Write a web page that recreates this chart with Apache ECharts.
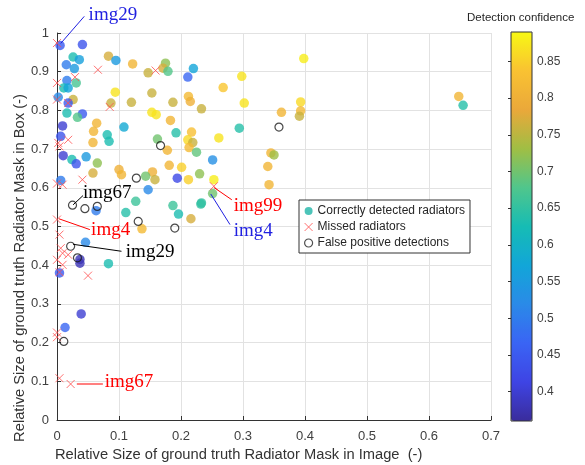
<!DOCTYPE html>
<html>
<head>
<meta charset="utf-8">
<script src="https://cdn.jsdelivr.net/npm/echarts@6/dist/echarts.min.js"></script>
<style>
html, body { margin: 0; padding: 0; background: #fff; }
#chart { width: 585px; height: 465px; }
</style>
</head>
<body>
<div id="chart"></div>
<script>
// correctly detected radiators: [x, y, confidence]
const detected = [
  [0.005,0.968,0.45],[0.041,0.970,0.44],[0.026,0.938,0.63],[0.036,0.931,0.56],[0.015,0.918,0.50],
  [0.028,0.908,0.55],[0.083,0.940,0.77],[0.095,0.929,0.55],[0.122,0.920,0.81],[0.175,0.922,0.72],
  [0.171,0.909,0.77],[0.179,0.901,0.68],[0.147,0.897,0.76],[0.220,0.908,0.57],[0.211,0.886,0.47],
  [0.016,0.877,0.50],[0.031,0.871,0.67],[0.011,0.858,0.63],[0.018,0.858,0.57],[0.094,0.847,0.87],
  [0.153,0.845,0.76],[0.268,0.859,0.84],[0.002,0.834,0.52],[0.026,0.828,0.76],[0.018,0.819,0.45],
  [0.087,0.819,0.76],[0.120,0.821,0.76],[0.187,0.821,0.76],[0.212,0.836,0.82],[0.215,0.823,0.80],
  [0.233,0.804,0.76],[0.016,0.793,0.63],[0.041,0.791,0.45],[0.033,0.782,0.68],[0.153,0.795,0.87],
  [0.160,0.789,0.87],[0.183,0.774,0.81],[0.009,0.760,0.40],[0.064,0.767,0.81],[0.059,0.746,0.81],
  [0.058,0.717,0.81],[0.108,0.757,0.58],[0.081,0.737,0.63],[0.084,0.720,0.63],[0.162,0.726,0.70],
  [0.192,0.742,0.64],[0.217,0.744,0.83],[0.211,0.724,0.86],[0.219,0.717,0.76],[0.261,0.729,0.87],
  [0.294,0.754,0.64],[0.006,0.733,0.44],[0.398,0.934,0.88],[0.298,0.888,0.87],[0.302,0.819,0.87],
  [0.362,0.795,0.81],[0.393,0.822,0.86],[0.393,0.799,0.82],[0.391,0.785,0.76],[0.648,0.836,0.81],
  [0.655,0.813,0.64],[0.345,0.690,0.81],[0.350,0.685,0.73],[0.251,0.672,0.53],[0.340,0.655,0.81],
  [0.342,0.608,0.81],[0.253,0.621,0.88],[0.251,0.585,0.70],[0.233,0.561,0.65],[0.178,0.697,0.81],
  [0.213,0.704,0.82],[0.225,0.692,0.69],[0.181,0.658,0.81],[0.201,0.653,0.85],[0.154,0.641,0.80],
  [0.143,0.630,0.70],[0.158,0.621,0.76],[0.194,0.625,0.42],[0.212,0.621,0.85],[0.230,0.636,0.72],
  [0.147,0.595,0.52],[0.187,0.554,0.66],[0.232,0.558,0.65],[0.196,0.532,0.63],[0.216,0.520,0.77],
  [0.010,0.683,0.40],[0.024,0.673,0.63],[0.031,0.662,0.44],[0.047,0.680,0.55],[0.065,0.664,0.72],
  [0.058,0.638,0.77],[0.100,0.647,0.80],[0.104,0.634,0.81],[0.006,0.619,0.50],[0.063,0.541,0.50],
  [0.127,0.565,0.66],[0.111,0.536,0.64],[0.137,0.494,0.82],[0.046,0.459,0.52],[0.037,0.415,0.38],
  [0.037,0.405,0.38],[0.083,0.404,0.63],[0.004,0.380,0.45],[0.039,0.274,0.40],[0.013,0.239,0.47]
];
// missed radiators: [x, y]
const missed = [
  [0,0.974],[0.159,0.903],[0.066,0.905],[0.029,0.886],[0,0.871],[0,0.828],[0.018,0.819],
  [0.085,0.809],[0.018,0.724],[0.004,0.707],[0.002,0.716],[0,0.611],[0.009,0.608],[0.041,0.621],
  [0,0.518],[0.004,0.479],[0.006,0.444],[0.009,0.431],[0.018,0.427],[0,0.414],[0.009,0.401],
  [0.004,0.382],[0.050,0.373],[0,0.226],[0,0.214],[0.004,0.108],[0.022,0.093],[0.253,0.604]
];
// false positive detections: [x, y]
const falsePos = [
  [0.167,0.709],[0.358,0.757],[0.128,0.625],[0.025,0.555],[0.045,0.546],[0.065,0.552],
  [0.131,0.513],[0.190,0.496],[0.022,0.449],[0.033,0.419],[0.011,0.203]
];
// annotations: label, colour, point, line end, text anchor (data units)
const annText  = ['img29', 'img67', 'img4', 'img29', 'img67', 'img99', 'img4'];
const annColor = ['#1f1fe0', '#000000', '#ff0000', '#000000', '#ff0000', '#ff0000', '#1f1fe0'];
const annFrom  = [[0.006,0.973],[0.026,0.556],[0.003,0.520],[0.026,0.454],[0.032,0.093],[0.253,0.601],[0.248,0.584]];
const annTo    = [[0.044,1.043],[0.042,0.580],[0.053,0.492],[0.104,0.436],[0.074,0.093],[0.282,0.569],[0.279,0.505]];
const annAt    = [[0.051,1.046],[0.042,0.587],[0.055,0.490],[0.111,0.434],[0.077,0.097],[0.285,0.553],[0.285,0.489]];

const colorTicks = [0.4, 0.45, 0.5, 0.55, 0.6, 0.65, 0.7, 0.75, 0.8, 0.85];
const confMin = 0.36, confMax = 0.89;

// parula-like colormap sampled from the colorbar (evenly spaced from confMin to confMax)
const parula = ['#3a2c9c','#3e44e4','#3a64f4','#2a8ae8','#12a6d8','#16bcb4',
                '#50c68c','#a0be44','#eaa83a','#f9c232','#f8f814'];

const font = '"Liberation Sans", Arial, sans-serif';
const axisColor = '#333333';

const chart = echarts.init(document.getElementById('chart'));
chart.setOption({
  animation: false,
  grid: [
    { left: 57, top: 33, width: 434, height: 387 },
    { left: 511, top: 32, width: 21, height: 389 }
  ],
  xAxis: [
    {
      gridIndex: 0, type: 'value', min: 0, max: 0.7, interval: 0.1,
      axisLine: { lineStyle: { color: axisColor, width: 1 } },
      axisTick: { inside: true, length: 4, lineStyle: { color: axisColor } },
      axisLabel: { color: '#404040', fontSize: 13, fontFamily: font, margin: 10 },
      splitLine: { lineStyle: { color: '#e2e2e2' } }
    },
    { gridIndex: 1, type: 'value', min: 0, max: 1, show: false }
  ],
  yAxis: [
    {
      gridIndex: 0, type: 'value', min: 0, max: 1, interval: 0.1,
      axisLine: { show: true, lineStyle: { color: axisColor, width: 1 } },
      axisTick: { show: true, inside: true, length: 4, lineStyle: { color: axisColor } },
      axisLabel: { color: '#404040', fontSize: 13, fontFamily: font, margin: 8 },
      splitLine: { lineStyle: { color: '#e2e2e2' } }
    },
    {
      gridIndex: 1, type: 'value', position: 'right', min: confMin, max: confMax,
      axisLine: { show: false },
      axisTick: { show: true, inside: true, length: 3, customValues: colorTicks, lineStyle: { color: '#333' } },
      axisLabel: { customValues: colorTicks, color: '#404040', fontSize: 12, fontFamily: font, margin: 5 },
      splitLine: { show: false }
    }
  ],
  visualMap: {
    type: 'continuous', seriesIndex: 0, dimension: 2,
    min: confMin, max: confMax, calculable: false,
    orient: 'vertical', left: 511, top: 32, padding: 0,
    itemWidth: 21, itemHeight: 389,
    inRange: { color: parula }
  },
  legend: {
    orient: 'vertical', left: 299, top: 200,
    padding: [4, 5, 3, 5], itemGap: 2, itemWidth: 8, itemHeight: 8,
    backgroundColor: '#ffffff', borderColor: '#333', borderWidth: 1, borderRadius: 0,
    selectedMode: false,
    textStyle: { fontSize: 12, fontFamily: font, color: '#262626', lineHeight: 14 },
    data: [
      { name: 'Correctly detected radiators', icon: 'circle', itemStyle: { color: '#1fb5a8' } },
      { name: 'Missed radiators', icon: 'path://M0,0L10,10M10,0L0,10',
        itemStyle: { color: 'transparent', borderColor: '#ff4d4d', borderWidth: 1 } },
      { name: 'False positive detections', icon: 'circle',
        itemStyle: { color: 'transparent', borderColor: '#222', borderWidth: 1.2 } }
    ]
  },
  series: [
    {
      name: 'Correctly detected radiators', type: 'scatter',
      xAxisIndex: 0, yAxisIndex: 0, symbolSize: 9.5, data: detected, z: 2
    },
    {
      name: 'Missed radiators', type: 'scatter',
      xAxisIndex: 0, yAxisIndex: 0,
      symbol: 'path://M0,0L10,10M10,0L0,10', symbolSize: 8,
      itemStyle: { color: 'transparent', borderColor: '#ff4d4d', borderWidth: 1 },
      data: missed, z: 3
    },
    {
      name: 'False positive detections', type: 'scatter',
      xAxisIndex: 0, yAxisIndex: 0, symbol: 'circle', symbolSize: 8,
      itemStyle: { color: 'transparent', borderColor: '#1a1a1a', borderWidth: 1.2 },
      data: falsePos, z: 4
    },
    {
      type: 'custom', xAxisIndex: 0, yAxisIndex: 0, clip: false, silent: true, z: 5,
      data: annText.map((t, i) => [annFrom[i][0], annFrom[i][1], annTo[i][0], annTo[i][1], annAt[i][0], annAt[i][1]]),
      renderItem: function (params, api) {
        const i = params.dataIndex;
        const p1 = api.coord([api.value(0), api.value(1)]);
        const p2 = api.coord([api.value(2), api.value(3)]);
        const pt = api.coord([api.value(4), api.value(5)]);
        return {
          type: 'group',
          children: [
            { type: 'line', shape: { x1: p1[0], y1: p1[1], x2: p2[0], y2: p2[1] },
              style: { stroke: annColor[i], lineWidth: 1 } },
            { type: 'text', x: pt[0], y: pt[1],
              style: { text: annText[i], fill: annColor[i], font: '19px "Liberation Serif", "Times New Roman", serif',
                       textAlign: 'left', textVerticalAlign: 'middle' } }
          ]
        };
      }
    }
  ],
  graphic: [
    { type: 'rect', shape: { x: 511, y: 32, width: 21, height: 389 }, z: 100,
      style: { fill: 'none', stroke: '#333', lineWidth: 1 } },
    { type: 'text', x: 467, y: 18, z: 100,
      style: { text: 'Detection confidence', font: '11.5px ' + font, fill: '#262626', textVerticalAlign: 'middle' } },
    { type: 'text', x: 55, y: 455, z: 100,
      style: { text: 'Relative Size of ground truth Radiator Mask in Image  (-)', font: '14.7px ' + font,
               fill: '#333', textVerticalAlign: 'middle' } },
    { type: 'text', x: 20, y: 268, rotation: Math.PI / 2, z: 100,
      style: { text: 'Relative Size of ground truth Radiator Mask in Box (-)', font: '14.7px ' + font,
               fill: '#333', textAlign: 'center', textVerticalAlign: 'middle' } }
  ]
});
</script>
</body>
</html>
